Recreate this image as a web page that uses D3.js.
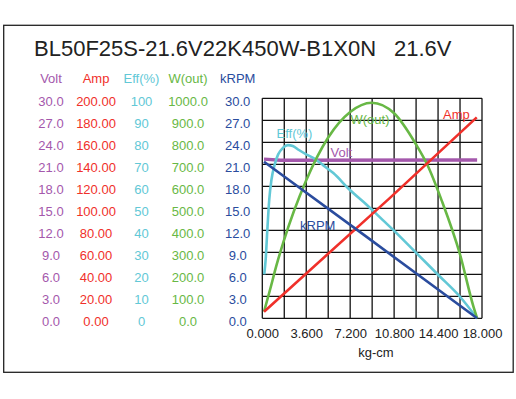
<!DOCTYPE html>
<html>
<head>
<meta charset="utf-8">
<script src="https://cdn.jsdelivr.net/npm/d3@7"></script>
<style>
  body { margin: 0; background: #fff; }
  svg { display: block; font-family: "Liberation Sans", Arial, sans-serif; }
</style>
</head>
<body>
<svg id="chart" width="516" height="399"></svg>
<script>
// Motor curve data (torque in kg-cm)
const titleMain = 'BL50F25S-21.6V22K450W-B1X0N';
const titleVolt = '21.6V';

const voltData = [[0.14, 21.7], [1.5, 21.56], [17.6, 21.58]];
const ampData = [[0.14, 6.0], [10.46, 109.5], [17.57, 182.7]];
const rpmData = [[0.14, 21.35], [8.55, 11.1], [17.6, 0]];
const effData = [
  [0.16, 20], [0.28, 27], [0.41, 40], [0.57, 54], [0.75, 63], [1.02, 70],
  [1.3, 74.5], [1.7, 77.5], [2.1, 78.7], [2.5, 78.3], [3.0, 76.5], [3.6, 74.5],
  [4.3, 72.5], [5.0, 69.5], [5.82, 66], [7.18, 58.3], [8.55, 51.6], [9.9, 44.5],
  [10.87, 39.4], [12.65, 29.5], [14.42, 19.7], [16.2, 9.8], [17.6, 0]
];
const wattData = [
  [0.14, 30], [0.85, 175], [1.02, 212], [1.72, 345], [3.6, 628], [5.4, 822],
  [7.2, 938], [8.96, 980], [10.8, 932], [12.6, 790], [13.5, 700], [14.7, 535],
  [16.2, 290], [17.3, 53], [17.6, 0]
];

// tick labels
const voltTicks = [0, 3, 6, 9, 12, 15, 18, 21, 24, 27, 30];
const ampTicks = [0, 20, 40, 60, 80, 100, 120, 140, 160, 180, 200];
const effTicks = [0, 10, 20, 30, 40, 50, 60, 70, 80, 90, 100];
const wattTicks = [0, 100, 200, 300, 400, 500, 600, 700, 800, 900, 1000];
const rpmTicks = [0, 3, 6, 9, 12, 15, 18, 21, 24, 27, 30];
const xTickLabels = [0, 3.6, 7.2, 10.8, 14.4, 18];
const xGridLines = [0, 1.8, 3.6, 5.4, 7.2, 9, 10.8, 12.6, 14.4, 16.2, 18];

const colors = {
  volt: '#a458ac',
  amp: '#f0302a',
  eff: '#62c8d6',
  watt: '#68b845',
  rpm: '#2a4c9e'
};

const svg = d3.select('#chart');
const plot = { left: 262.3, right: 482, top: 98.3, bottom: 318.3 };

// outer frame
svg.append('rect')
  .attr('x', 3.7).attr('y', 25.3)
  .attr('width', 509.5).attr('height', 347)
  .attr('fill', 'none').attr('stroke', '#222').attr('stroke-width', 1.3);

// title
svg.append('text').attr('x', 34).attr('y', 56)
  .attr('font-size', 22).attr('fill', '#222').text(titleMain);
svg.append('text').attr('x', 394).attr('y', 56)
  .attr('font-size', 22).attr('fill', '#222').text(titleVolt);

// scales
const x = d3.scaleLinear().domain([0, 18]).range([plot.left, plot.right]);
const yVolt = d3.scaleLinear().domain([0, 30]).range([plot.bottom, plot.top]);
const yAmp = d3.scaleLinear().domain([0, 200]).range([plot.bottom, plot.top]);
const yEff = d3.scaleLinear().domain([0, 100]).range([plot.bottom, plot.top]);
const yWatt = d3.scaleLinear().domain([0, 1000]).range([plot.bottom, plot.top]);
const yRpm = d3.scaleLinear().domain([0, 30]).range([plot.bottom, plot.top]);

// left value columns
const columns = [
  { name: 'Volt', cx: 51, scale: yVolt, ticks: voltTicks, fmt: d3.format('.1f'), color: colors.volt },
  { name: 'Amp', cx: 96, scale: yAmp, ticks: ampTicks, fmt: d3.format('.2f'), color: colors.amp },
  { name: 'Eff(%)', cx: 141.5, scale: yEff, ticks: effTicks, fmt: d3.format('d'), color: colors.eff },
  { name: 'W(out)', cx: 188, scale: yWatt, ticks: wattTicks, fmt: d3.format('.1f'), color: colors.watt },
  { name: 'kRPM', cx: 237.7, scale: yRpm, ticks: rpmTicks, fmt: d3.format('.1f'), color: colors.rpm }
];

columns.forEach(c => {
  svg.append('text')
    .attr('x', c.cx).attr('y', 83)
    .attr('text-anchor', 'middle')
    .attr('font-size', 13).attr('fill', c.color)
    .text(c.name);

  const g = svg.append('g')
    .attr('transform', `translate(${c.cx},0)`)
    .call(d3.axisLeft(c.scale).tickValues(c.ticks).tickFormat(c.fmt).tickSize(0).tickPadding(0));
  g.select('.domain').remove();
  g.selectAll('text')
    .attr('x', 0).attr('dy', 7.3)
    .attr('text-anchor', 'middle')
    .attr('font-size', 13)
    .attr('font-family', '"Liberation Sans", Arial, sans-serif')
    .attr('fill', c.color);
});

// grid
const grid = svg.append('g');
grid.selectAll('line.v').data(xGridLines).enter().append('line')
  .attr('class', 'v')
  .attr('x1', d => x(d)).attr('x2', d => x(d))
  .attr('y1', plot.top).attr('y2', plot.bottom)
  .attr('stroke', '#111').attr('stroke-width', 1.3);
grid.selectAll('line.h').data(voltTicks).enter().append('line')
  .attr('class', 'h')
  .attr('x1', plot.left).attr('x2', plot.right)
  .attr('y1', d => yVolt(d)).attr('y2', d => yVolt(d))
  .attr('stroke', '#111').attr('stroke-width', 1.3);

// x axis labels
const xAxis = svg.append('g')
  .attr('transform', `translate(0,${plot.bottom})`)
  .call(d3.axisBottom(x).tickValues(xTickLabels).tickFormat(d3.format('.3f')).tickSize(0).tickPadding(0));
xAxis.select('.domain').remove();
xAxis.selectAll('text')
  .attr('dy', 0).attr('y', 19.5)
  .attr('font-size', 13)
  .attr('font-family', '"Liberation Sans", Arial, sans-serif')
  .attr('fill', '#222');

svg.append('text')
  .attr('x', 376).attr('y', 357)
  .attr('text-anchor', 'middle')
  .attr('font-size', 13).attr('fill', '#222')
  .text('kg-cm');

// curves
function drawCurve(data, yScale, color, width, curve) {
  const line = d3.line()
    .x(d => x(d[0]))
    .y(d => yScale(d[1]))
    .curve(curve || d3.curveLinear);
  svg.append('path')
    .datum(data)
    .attr('d', line)
    .attr('fill', 'none')
    .attr('stroke', color)
    .attr('stroke-width', width)
    .attr('stroke-linejoin', 'round');
}

drawCurve(voltData, yVolt, colors.volt, 3.4);
drawCurve(effData, yEff, colors.eff, 2.6, d3.curveMonotoneX);
drawCurve(wattData, yWatt, colors.watt, 2.6, d3.curveMonotoneX);
drawCurve(ampData, yAmp, colors.amp, 2.6);
drawCurve(rpmData, yRpm, colors.rpm, 2.6);

// in-plot labels
const labels = [
  { text: 'Amp', x: 443, y: 118.5, color: colors.amp },
  { text: 'W(out)', x: 350.5, y: 124, color: colors.watt },
  { text: 'Eff(%)', x: 276.5, y: 137.5, color: colors.eff },
  { text: 'Volt', x: 330.5, y: 156.5, color: colors.volt },
  { text: 'kRPM', x: 300, y: 229.5, color: colors.rpm }
];
svg.selectAll('text.curve-label').data(labels).enter().append('text')
  .attr('class', 'curve-label')
  .attr('x', d => d.x).attr('y', d => d.y)
  .attr('font-size', 13)
  .attr('fill', d => d.color)
  .text(d => d.text);
</script>
</body>
</html>
